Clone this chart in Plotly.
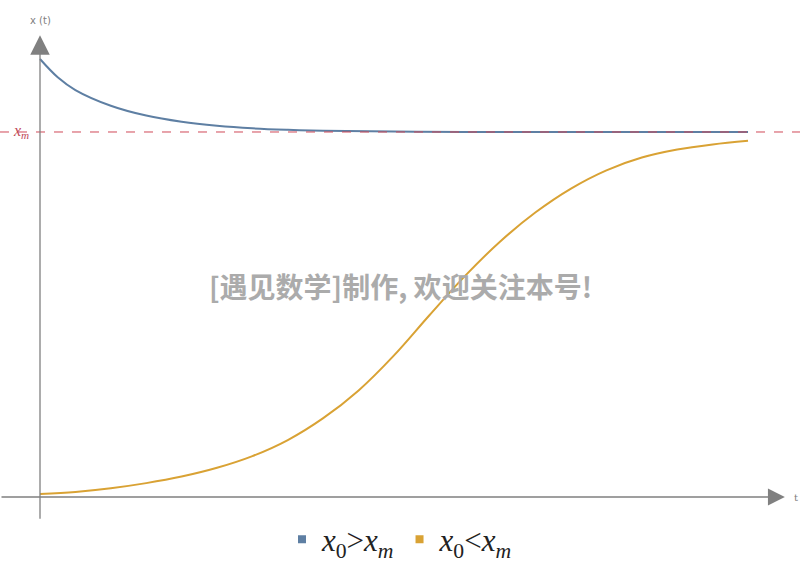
import plotly.graph_objects as go

# values (t, x), xm = 10
xm = 10.0
t_blue = [0, 0.25, 0.5, 1, 1.5, 2, 2.5, 3, 3.5, 4, 5, 6, 8, 10]
x_blue = [12.0, 11.5, 11.15, 10.72, 10.45, 10.28, 10.17, 10.1, 10.06, 10.035, 10.01, 10.0, 10.0, 10.0]
t_orange = [0, 0.5, 1, 1.5, 2, 2.5, 3, 3.5, 4, 4.5, 5, 5.5, 6, 6.5, 7, 7.5, 8, 8.5, 9, 9.5, 10]
x_orange = [0.08, 0.14, 0.24, 0.38, 0.56, 0.8, 1.12, 1.56, 2.16, 2.92, 3.88, 4.98, 6.05, 7.0,
            7.8, 8.45, 8.95, 9.3, 9.52, 9.66, 9.76]
labels = ["<i>x</i><sub>0</sub>><i>x</i><sub><i>m</i></sub>",
          "<i>x</i><sub>0</sub><<i>x</i><sub><i>m</i></sub>"]
colors = ["#5e7fa3", "#d9a234"]

fig = go.Figure()
for t, x, c in [(t_blue, x_blue, colors[0]), (t_orange, x_orange, colors[1])]:
    fig.add_trace(go.Scatter(x=t, y=x, mode="lines", line=dict(color=c, width=2, shape="spline"),
                             showlegend=False, hoverinfo="skip"))
# legend entries as squares, like the original
for lab, c in zip(labels, colors):
    fig.add_trace(go.Scatter(x=[None], y=[None], mode="markers", name=lab,
                             marker=dict(symbol="square", size=8, color=c)))

# xm dashed line
fig.add_shape(type="line", xref="paper", x0=0, x1=1, y0=xm, y1=xm,
              line=dict(color="#d04858", width=1, dash="dash"))

grey = "#808080"
# axes with arrows
fig.add_annotation(x=10.52, y=0, ax=-785, ay=0, axref="pixel", ayref="pixel",
                   showarrow=True, arrowhead=2, arrowsize=2.6, arrowwidth=1.3, arrowcolor=grey, text="")
fig.add_annotation(x=0, y=12.65, ax=0, ay=485, showarrow=True, arrowhead=2, arrowsize=3.0,
                   arrowwidth=1.3, arrowcolor=grey, text="")
fig.add_annotation(x=10.62, y=0, text="t", showarrow=False, xanchor="left",
                   font=dict(size=10, color=grey, family="DejaVu Serif"))
fig.add_annotation(x=0, y=12.85, text="x (t)", showarrow=False, yanchor="bottom",
                   font=dict(size=10, color=grey, family="DejaVu Sans"))
fig.add_annotation(x=-0.27, y=xm, text="<i>x</i><sub><i>m</i></sub>", showarrow=False,
                   font=dict(size=16, color="#c04858", family="Liberation Serif"))
# watermark
fig.add_annotation(xref="paper", yref="paper", x=0.5, y=0.494, showarrow=False,
                   text="<b>[遇见数学]制作, 欢迎关注本号!</b>",
                   font=dict(size=28, color="#ababab", family="Noto Sans CJK SC"))

fig.update_layout(
    width=800, height=565, margin=dict(l=0, r=0, t=0, b=0, autoexpand=False),
    plot_bgcolor="white", paper_bgcolor="white",
    xaxis=dict(range=[-0.565, 10.734], visible=False),
    yaxis=dict(range=[-1.863, 13.616], visible=False),
    legend=dict(orientation="h", x=0.5, xanchor="center", y=0.045, yanchor="middle",
                font=dict(size=31, family="Liberation Serif", color="#222"),
                itemwidth=30, tracegroupgap=0, bgcolor="rgba(0,0,0,0)"),
)
# page body has an 8px default margin; drop it so the chart sits at the window corner
fig.write_html("out.html", config={"displayModeBar": False},
               post_script="document.body.style.margin='0';")
